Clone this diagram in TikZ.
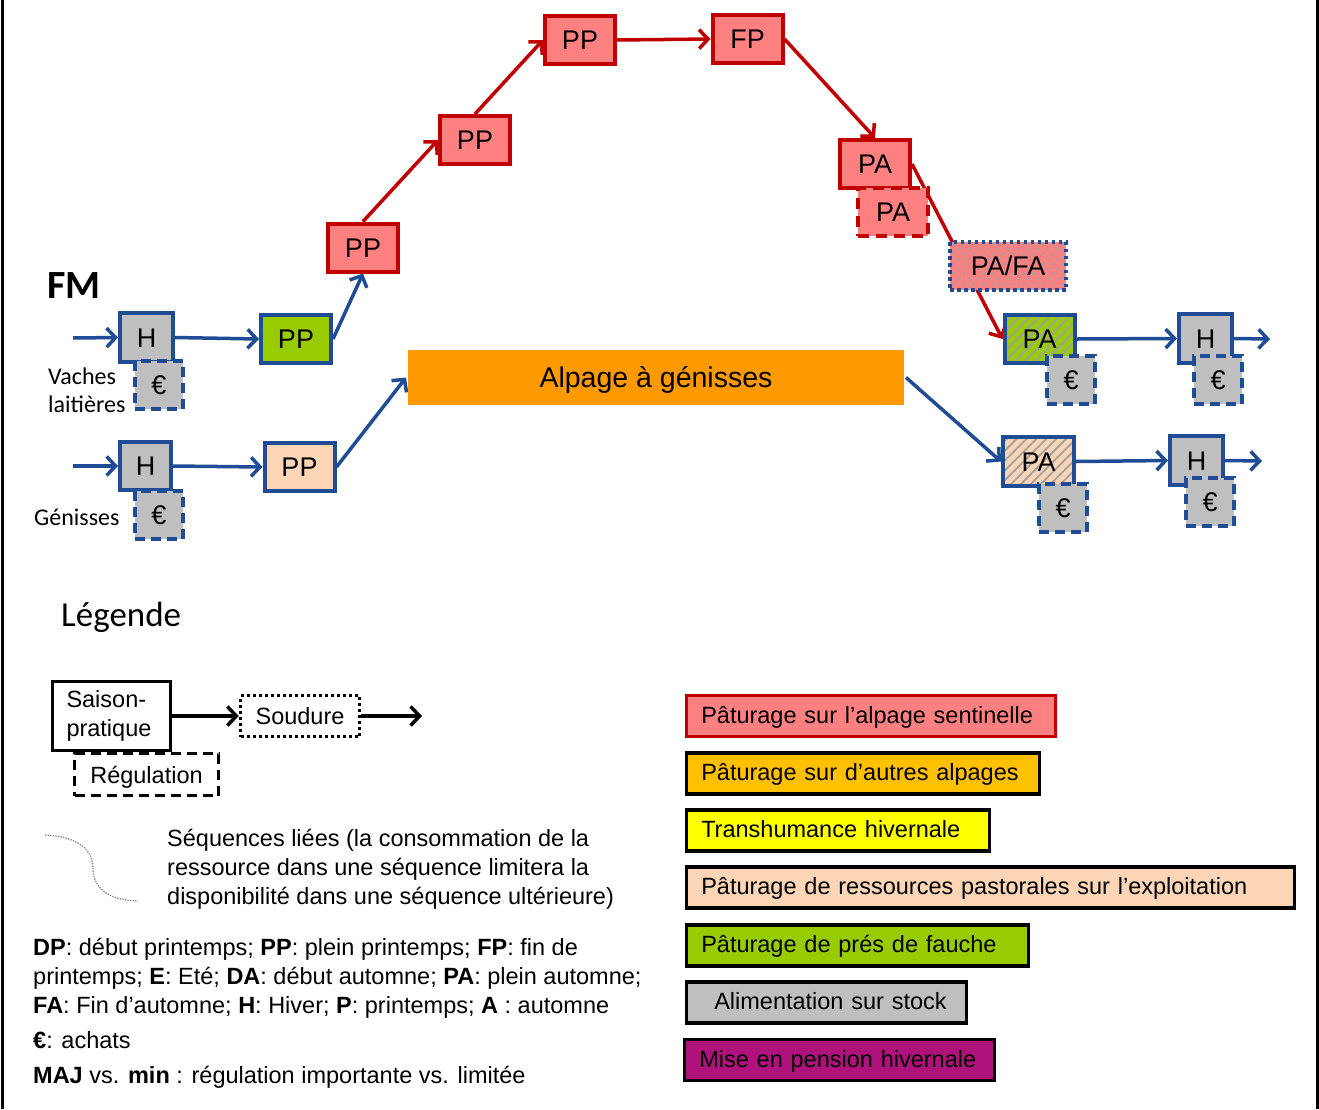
\documentclass[tikz,border=0pt]{standalone}
\usepackage{fontspec}
\setmainfont{Liberation Sans}
\newfontfamily\calfont{Carlito}
\usetikzlibrary{arrows.meta,patterns.meta,backgrounds}
\definecolor{dred}{RGB}{192,0,0}
\definecolor{pinkf}{RGB}{255,128,128}
\definecolor{dblue}{RGB}{31,76,148}
\definecolor{greenf}{RGB}{153,204,0}
\definecolor{peachf}{RGB}{251,213,181}
\definecolor{grayf}{RGB}{191,191,191}
\definecolor{orangeA}{RGB}{255,153,0}
\definecolor{orangeL}{RGB}{255,192,0}
\definecolor{yellowf}{RGB}{255,255,0}
\definecolor{magf}{RGB}{176,18,124}
\definecolor{hatchc}{RGB}{160,160,160}
\begin{document}
\begin{tikzpicture}[x=1pt,y=-1pt,
  box/.style={rectangle, line width=4pt, inner sep=0pt,
    font=\fontsize{27}{30}\selectfont, text height=19pt, text depth=0pt},
  rbox/.style={box, draw=dred, fill=pinkf, minimum width=70pt, minimum height=48pt},
  bbox/.style={box, draw=dblue, minimum width=70pt, minimum height=48pt},
  hbox/.style={box, draw=dblue, fill=grayf, minimum width=53pt, minimum height=49pt},
  ebox/.style={box, draw=dblue, fill=grayf, dash pattern=on 10pt off 6pt,
    minimum width=48pt, minimum height=48pt},
  hatched/.style={preaction={fill=#1}, pattern={Lines[angle=45,distance=7pt,line width=1.8pt]}, pattern color=hatchc},
  barr/.style={draw=dblue, line width=3.5pt, -{Straight Barb[length=9pt,width=19pt]}},
  rarr/.style={draw=dred, line width=3.5pt, -{Straight Barb[length=9pt,width=19pt]}},
  karr/.style={draw=black, line width=3.5pt, -{Straight Barb[length=9pt,width=19pt]}},
  txt/.style={inner sep=0pt, anchor=base west, font=\fontsize{23.5}{28}\selectfont},
  caltxt/.style={inner sep=0pt, anchor=base west, font=\calfont\fontsize{24}{28}\selectfont},
  legbox/.style={rectangle, draw=black, line width=3.5pt, inner ysep=0pt, inner xsep=15pt,
    minimum height=41pt, anchor=west, align=left, text height=17pt, text depth=3pt,
    font=\fontsize{23.5}{28}\selectfont},
]
\useasboundingbox (0,0) rectangle (1319,1109);

% ---- top chain (sentinel alpage)
\node[rbox] (pp1) at (363,247.5) {PP};
\node[rbox] (pp2) at (475,140) {PP};
\node[rbox] (pp3) at (580,40) {PP};
\node[rbox] (fp) at (747.5,39) {FP};
\node[rbox] (pa1) at (875,164) {PA};
\node[rbox, dash pattern=on 11pt off 7pt] (pa2) at (893,212) {PA};
\node[box, draw=dblue, hatched=pinkf, line width=4pt, dash pattern=on 3.5pt off 3.5pt,
  minimum width=116pt, minimum height=48pt] (pafa) at (1008,266) {PA/FA};

% ---- dairy cows row
\node[hbox] (h1) at (146.5,337.5) {H};
\node[ebox] (e1) at (159,384.5) {€};
\node[bbox, fill=greenf] (ppg) at (296,339) {PP};
\node[bbox, hatched=greenf] (pag) at (1039.5,339) {PA};
\node[ebox] (e3) at (1071,380) {€};
\node[hbox] (h3) at (1205.5,338.5) {H};
\node[ebox] (e4) at (1218,380) {€};

% ---- heifers row
\node[hbox, minimum width=51pt, minimum height=48pt] (h2) at (145.5,466) {H};
\node[ebox] (e2) at (159,515) {€};
\node[bbox, fill=peachf] (ppp) at (299.5,467) {PP};
\node[box, fill=orangeA, minimum width=496pt, minimum height=55pt,
  font=\fontsize{28.5}{32}\selectfont, text height=20pt] (alp) at (656,377.5) {Alpage à génisses};
\node[bbox, hatched=peachf, minimum width=71pt, minimum height=49pt] (pap) at (1038.5,461.5) {PA};
\node[ebox] (e5) at (1063,508) {€};
\node[hbox] (h4) at (1196.5,460.5) {H};
\node[ebox] (e6) at (1210,502) {€};

\coordinate (in1) at (73,338);
\coordinate (in2) at (73,466);
\coordinate (out1) at (1270,339);
\coordinate (out2) at (1262,461);

\begin{pgfonlayer}{background}
\fill[white] (0,0) rectangle (1319,1109);
\draw[rarr] (pp1.north) -- (pp2.west);
\draw[rarr] (pp2.north) -- (pp3.west);
\draw[rarr] (pp3.east) -- (fp.west);
\draw[rarr] (fp.east) -- (pa1.north);
\draw[rarr] (pa1.east) -- (pag.west);
\draw[barr] (in1) -- (h1.west);
\draw[barr] (h1.east) -- (ppg.west);
\draw[barr] (ppg.east) -- (pp1.south);
\draw[barr] (pag.east) -- (h3.west);
\draw[barr] (h3.east) -- (out1);
\draw[barr] (in2) -- (h2.west);
\draw[barr] (h2.east) -- (ppp.west);
\draw[barr] (ppp.east) -- (alp.west);
\draw[barr] (alp.east) -- (pap.west);
\draw[barr] (pap.east) -- (h4.west);
\draw[barr] (h4.east) -- (out2);
\end{pgfonlayer}

% ---- labels
\node[inner sep=0pt, anchor=base west, font=\calfont\bfseries\fontsize{40}{44}\selectfont] (fm) at (47,298) {FM};
\node[caltxt] (vl1) at (48,384) {Vaches};
\node[caltxt] (vl2) at (48,412) {laitières};
\node[caltxt] (gen) at (34,525) {Génisses};

% ---- border lines
\draw[line width=3pt] (2,0) coordinate (bl1) -- (2,1109) coordinate (bl2);
\draw[line width=3pt] (1317,0) coordinate (br1) -- (1317,1109) coordinate (br2);

% ---- legend (left)
\node[inner sep=0pt, anchor=base west, font=\calfont\fontsize{35}{40}\selectfont] (leg) at (61,626) {Légende};
\node[rectangle, draw=black, line width=3.5pt, dash pattern=on 10pt off 6pt, minimum width=144pt,
  minimum height=42pt, inner sep=0pt, font=\fontsize{23.5}{28}\selectfont, text height=17pt, text depth=0pt]
  (reg) at (146.5,774.5) {Régulation};
\node[rectangle, draw=black, fill=white, line width=3.5pt, minimum height=69pt, inner ysep=0pt,
  inner xsep=14pt, text width=90pt, align=left, font=\fontsize{23.5}{29}\selectfont]
  (sai) at (111.5,716) {Saison-\\pratique};
\node[rectangle, draw=black, line width=3.5pt, dash pattern=on 3pt off 3pt, minimum width=119pt,
  minimum height=41pt, inner sep=0pt, font=\fontsize{23.5}{28}\selectfont, text height=17pt, text depth=0pt]
  (sou) at (300,716) {Soudure};
\coordinate (legout) at (422,716);
\draw[karr] (sai.east |- sou.west) -- (sou.west);
\draw[karr] (sou.east) -- (legout);

\draw[gray, line width=1.3pt, dash pattern=on 1.3pt off 1.3pt]
  (45,835) coordinate (c1) .. controls (85,837) and (93,855) .. (93,868)
  .. controls (93,884) and (103,900) .. (138,901) coordinate (c2);
\node[txt] (s1) at (167,846) {Séquences liées (la consommation de la};
\node[txt] (s2) at (167,875) {ressource dans une séquence limitera la};
\node[txt] (s3) at (167,904) {disponibilité dans une séquence ultérieure)};

\node[txt] (d1) at (33,955) {\textbf{DP}: début printemps; \textbf{PP}: plein printemps; \textbf{FP}: fin de};
\node[txt] (d2) at (33,984) {printemps; \textbf{E}: Eté; \textbf{DA}: début automne; \textbf{PA}: plein automne;};
\node[txt] (d3) at (33,1013) {\textbf{FA}: Fin d’automne; \textbf{H}: Hiver; \textbf{P}: printemps; \textbf{A} : automne};
\node[txt] (d4) at (33,1048) {\textbf{€}: achats};
\node[txt] (d5) at (33,1083) {\textbf{MAJ} vs. \textbf{min} : régulation importante vs. limitée};

% ---- legend (right)
\node[legbox, draw=dred, fill=pinkf, text width=339pt] (l1) at (684.5,716) {Pâturage sur l’alpage sentinelle};
\node[legbox, fill=orangeL, text width=323pt] (l2) at (684.5,773.5) {Pâturage sur d’autres alpages};
\node[legbox, fill=yellowf, text width=273pt] (l3) at (684.5,830.5) {Transhumance hivernale};
\node[legbox, fill=peachf, text width=578pt] (l4) at (684.5,887.5) {Pâturage de ressources pastorales sur l’exploitation};
\node[legbox, fill=greenf, text width=312pt] (l5) at (684.5,945.5) {Pâturage de prés de fauche};
\node[legbox, fill=grayf, text width=250pt] (l6) at (684.5,1002.5) {\hspace*{13pt}Alimentation sur stock};
\node[legbox, fill=magf, text width=280pt] (l7) at (682.5,1060) {Mise en pension hivernale};
\end{tikzpicture}
\end{document}
